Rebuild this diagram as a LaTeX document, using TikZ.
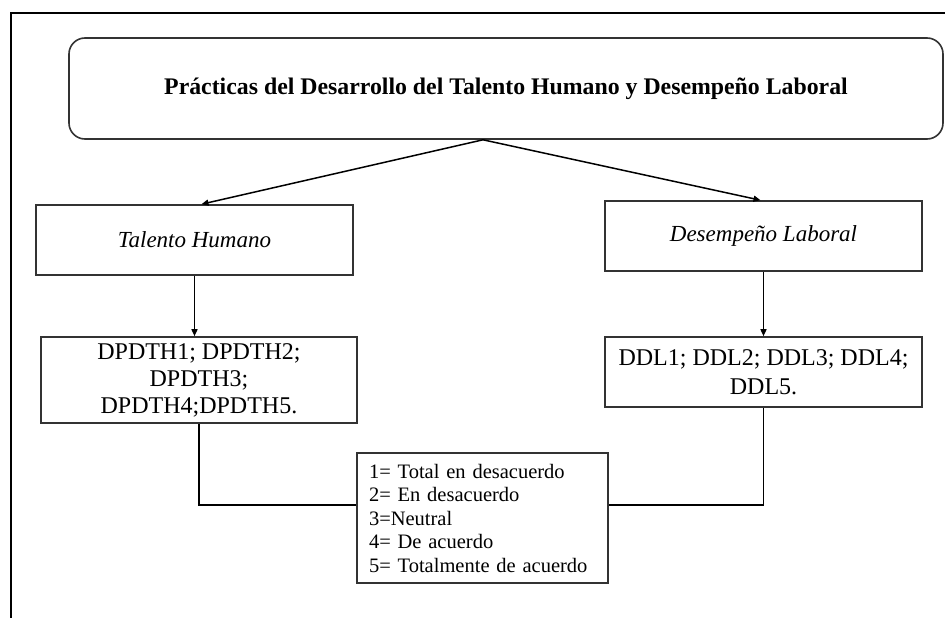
\documentclass[tikz,border=0pt]{standalone}
\usepackage{fontspec}
\setmainfont{Liberation Serif}
\usetikzlibrary{arrows.meta}
\begin{document}
\begin{tikzpicture}[x=1pt,y=-1pt,
  boxstyle/.style={draw=black!80,line width=1.6pt,inner sep=0pt,align=center},
  conn/.style={draw=black,line width=1.5pt},
  arr/.style={conn,-{Triangle[length=7pt,width=6pt]}}]
\useasboundingbox (0,0) rectangle (945,618);
\draw[line width=2.2pt] (11,618) -- (11,13) -- (945,13);
\node[boxstyle,rounded corners=16pt,minimum width=874pt,minimum height=101pt,font=\fontsize{23.8}{27}\selectfont\bfseries] (top) at (506,88.5) {Prácticas del Desarrollo del Talento Humano y Desempeño Laboral};
\node[boxstyle,minimum width=317pt,minimum height=70pt,font=\fontsize{23}{27}\selectfont\itshape] (th) at (194.5,240) {Talento Humano};
\node[boxstyle,minimum width=317pt,minimum height=70pt,font=\fontsize{23}{27}\selectfont\itshape] (dl) at (763.5,236) {Desempeño Laboral};
\node[boxstyle,minimum width=316pt,minimum height=86pt,font=\fontsize{24}{27}\selectfont] (dp) at (199,380) {DPDTH1; DPDTH2;\\DPDTH3;\\DPDTH4;DPDTH5.};
\node[boxstyle,minimum width=317pt,minimum height=70pt,font=\fontsize{24}{29}\selectfont] (dd) at (763.5,372) {DDL1; DDL2; DDL3; DDL4;\\DDL5.};
\node[boxstyle,align=left,inner xsep=12pt,text width=227pt,minimum height=130pt,font=\fontsize{20.5}{23.5}\selectfont] (lg) at (482.5,518) {1= Total en desacuerdo\\2= En desacuerdo\\3=Neutral\\4= De acuerdo\\5= Totalmente de acuerdo};
\draw[arr] ([xshift=-23pt]top.south) -- ([xshift=7pt]th.north);
\draw[arr] ([xshift=-23pt]top.south) -- ([xshift=-3pt]dl.north);
\draw[arr] (th.south) -- (th.south |- dp.north);
\draw[arr] (dl.south) -- (dd.north);
\draw[conn] (dp.south) |- ([yshift=13pt]lg.west);
\draw[conn] (dd.south) |- ([yshift=13pt]lg.east);
\end{tikzpicture}
\end{document}
